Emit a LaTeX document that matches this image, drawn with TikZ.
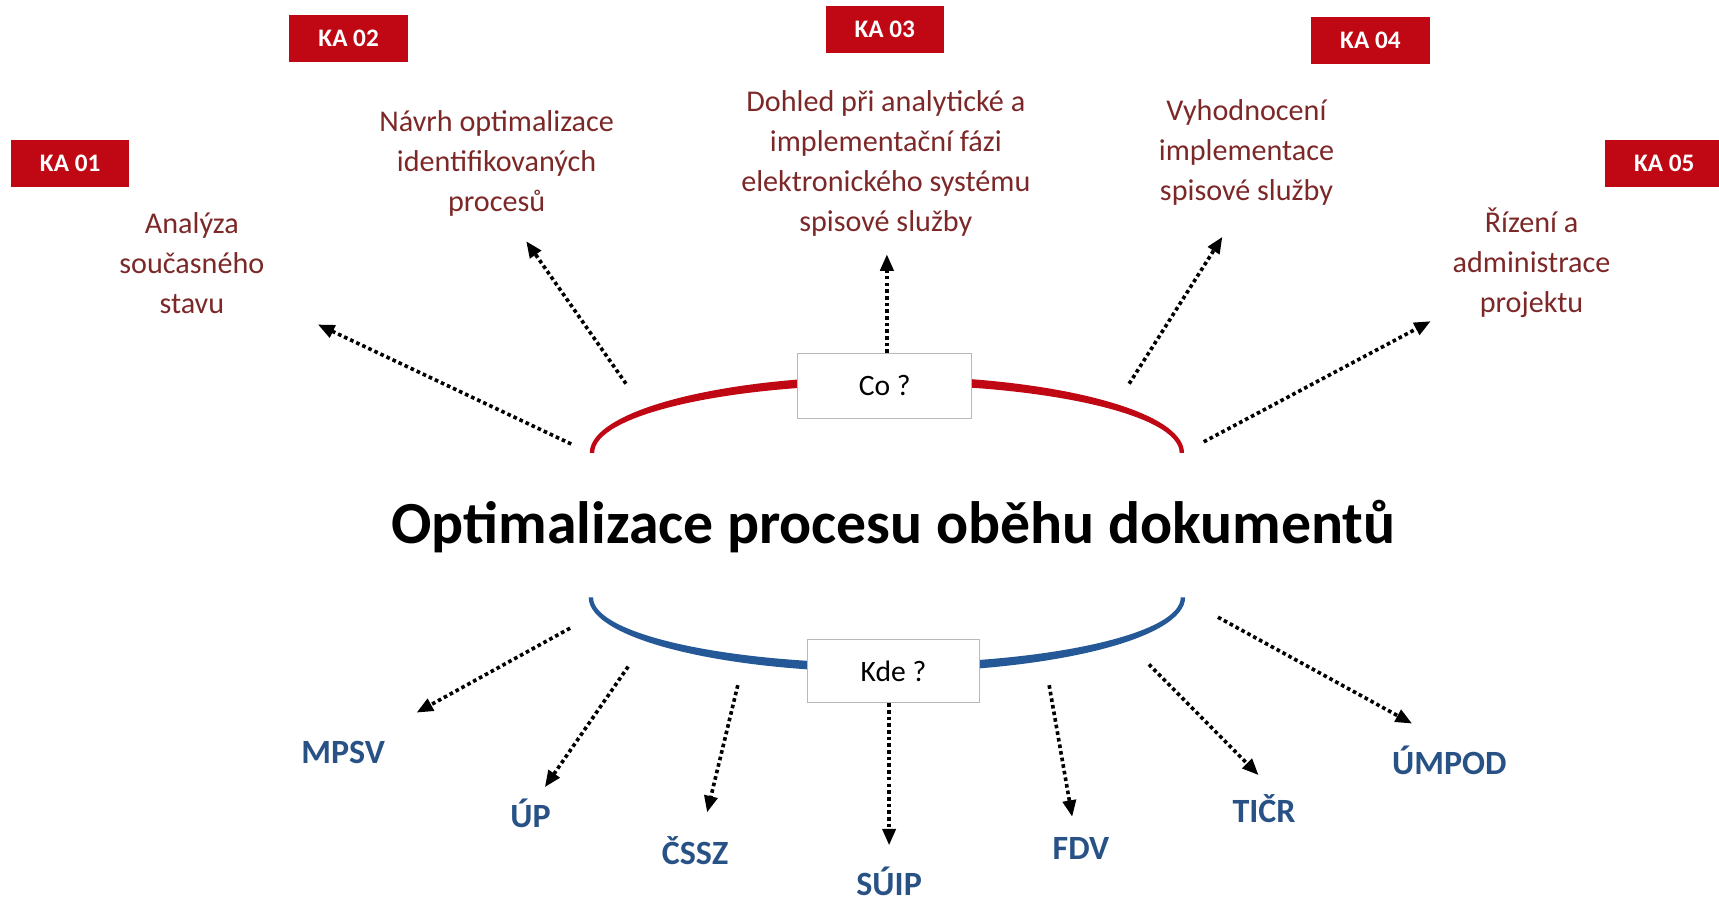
\documentclass[tikz,border=0pt]{standalone}
\usepackage{fontspec}
\setmainfont{Carlito}
\usetikzlibrary{arrows.meta}
\definecolor{kared}{RGB}{192,8,20}
\definecolor{descred}{RGB}{125,40,40}
\definecolor{arcblue}{RGB}{36,88,150}
\definecolor{lblblue}{RGB}{40,82,134}
\definecolor{boxgray}{RGB}{185,185,185}
\tikzset{
  kabox/.style={fill=kared, text=white, minimum width=108pt, minimum height=43pt, inner sep=0pt, font=\fontsize{23}{23}\selectfont\bfseries},
  desc/.style={text=descred, align=center, inner sep=0pt, font=\fontsize{27.5}{36.5}\selectfont},
  qbox/.style={draw=boxgray, line width=1pt, fill=white, inner sep=0pt, font=\fontsize{27}{27}\selectfont},
  place/.style={text=lblblue, inner sep=0pt, font=\fontsize{31}{31}\selectfont\bfseries},
  dotarrow/.style={line width=3.3pt, dash pattern=on 3.3pt off 2.8pt, -{Triangle[length=15pt,width=12pt]}, shorten >=0pt}
}
\begin{document}
\begin{tikzpicture}[x=1pt,y=-1pt]
\useasboundingbox (0,0) rectangle (1568,824);
\fill[white] (0,0) rectangle (1568,824);

% KA boxes
\node[kabox] (ka1) at (64,149) {KA 01};
\node[kabox] (ka2) at (318,35) {KA 02};
\node[kabox] (ka3) at (807,27) {KA 03};
\node[kabox] (ka4) at (1250,37) {KA 04};
\node[kabox] (ka5) at (1518,149) {KA 05};

% descriptions
\node[desc] (d1) at (175,240) {Analýza\\současného\\stavu};
\node[desc] (d2) at (453,149) {Návrh optimalizace\\identifikovaných\\procesů};
\node[desc] (d3) at (808,149) {Dohled při analytické a\\implementační fázi\\elektronického systému\\spisové služby};
\node[desc] (d4) at (1137,139) {Vyhodnocení\\implementace\\spisové služby};
\node[desc] (d5) at (1397,240) {Řízení a\\administrace\\projektu};

% tapered arcs
\fill[kared] (538,413) arc[start angle=180, end angle=0, x radius=271pt, y radius=70pt]
  -- (1076,413) arc[start angle=0, end angle=180, x radius=267pt, y radius=62pt] -- cycle;
\fill[arcblue] (537,545) arc[start angle=180, end angle=360, x radius=272pt, y radius=68pt]
  -- (1077,545) arc[start angle=360, end angle=180, x radius=268pt, y radius=60pt] -- cycle;

% title
\node[inner sep=0pt, font=\fontsize{54.5}{54.5}\selectfont\bfseries] (title) at (815,480) {Optimalizace procesu oběhu dokumentů};

% question boxes
\node[qbox, minimum width=159pt, minimum height=59pt] (co) at (807,352) {Co ?};
\node[qbox, minimum width=157pt, minimum height=58pt] (kde) at (815,612) {Kde ?};

% top arrows
\coordinate (s1) at (521,405); \coordinate (e1) at (290,296);
\coordinate (s2) at (571,350); \coordinate (e2) at (480,220);
\coordinate (e3) at (809,232);
\coordinate (s4) at (1030,350); \coordinate (e4) at (1115,216);
\coordinate (s5) at (1098,403); \coordinate (e5) at (1305,293);
\draw[dotarrow] (s1) -- (e1);
\draw[dotarrow] (s2) -- (e2);
\draw[dotarrow] (co.north -| e3) -- (e3);
\draw[dotarrow] (s4) -- (e4);
\draw[dotarrow] (s5) -- (e5);

% places
\node[place] (mpsv) at (313,686) {MPSV};
\node[place] (up) at (484,742) {ÚP};
\node[place] (cssz) at (634,776) {ČSSZ};
\node[place] (suip) at (811,804) {SÚIP};
\node[place] (fdv) at (986,774) {FDV};
\node[place] (ticr) at (1153,738) {TIČR};
\node[place] (umpod) at (1322,694) {ÚMPOD};

% bottom arrows
\coordinate (b1s) at (520,573); \coordinate (b1e) at (380,650);
\coordinate (b2s) at (573,608); \coordinate (b2e) at (497,718);
\coordinate (b3s) at (673,625); \coordinate (b3e) at (645,741);
\coordinate (b4e) at (811,771);
\coordinate (b5s) at (957,625); \coordinate (b5e) at (978,745);
\coordinate (b6s) at (1048,606); \coordinate (b6e) at (1148,707);
\coordinate (b7s) at (1111,563); \coordinate (b7e) at (1288,660);
\draw[dotarrow] (b1s) -- (b1e);
\draw[dotarrow] (b2s) -- (b2e);
\draw[dotarrow] (b3s) -- (b3e);
\draw[dotarrow] (kde.south -| b4e) -- (b4e);
\draw[dotarrow] (b5s) -- (b5e);
\draw[dotarrow] (b6s) -- (b6e);
\draw[dotarrow] (b7s) -- (b7e);
\end{tikzpicture}
\end{document}
